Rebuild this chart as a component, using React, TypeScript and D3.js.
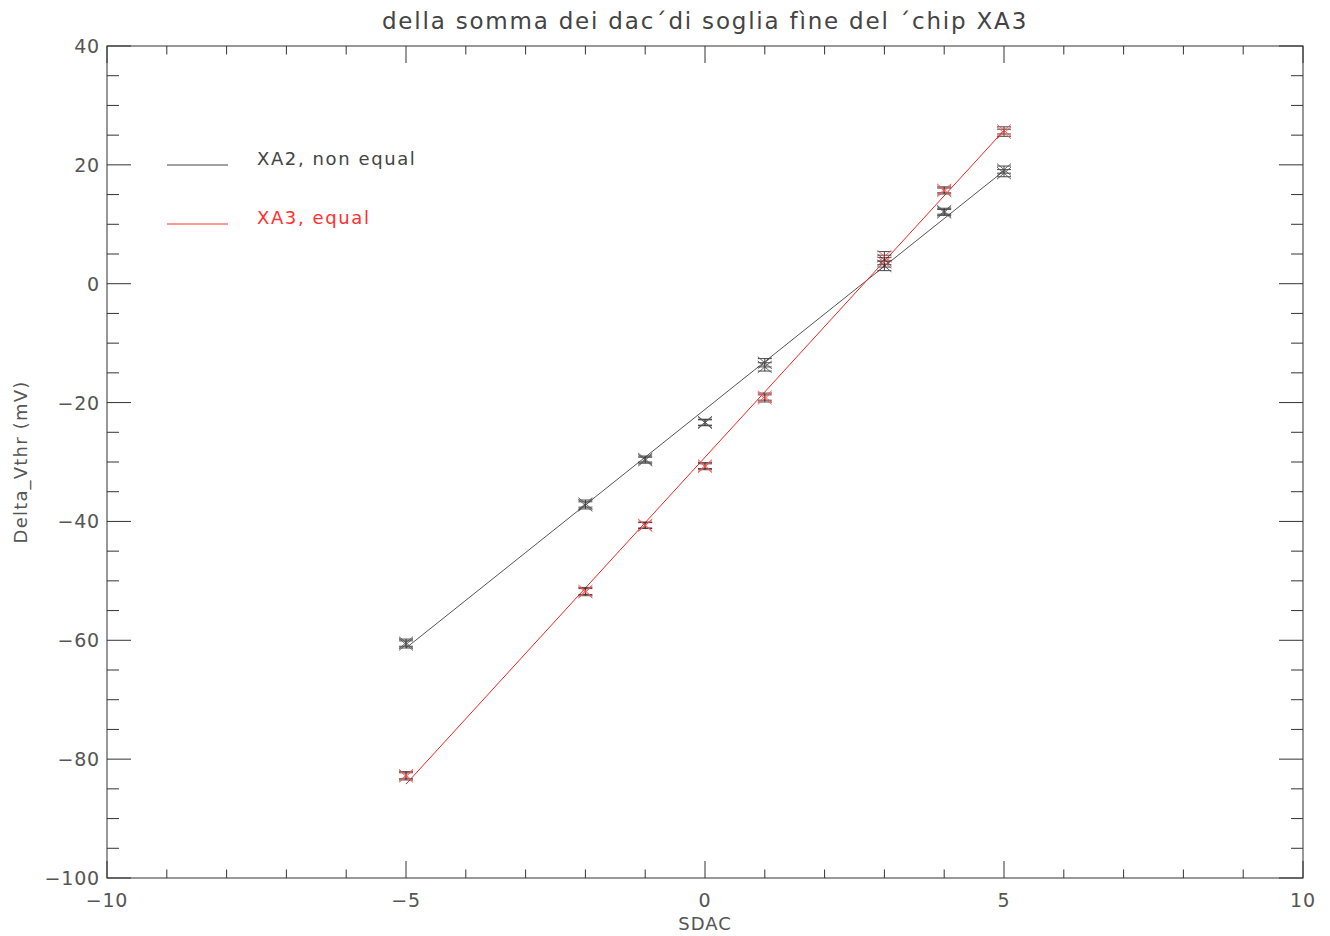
import React from "react";
import * as d3 from "d3";

const TITLE = "della somma dei dac´di soglia fìne del ´chip XA3";
const X_LABEL = "SDAC";
const Y_LABEL = "Delta_Vthr (mV)";
const xMajorTicks = [-10, -5, 0, 5, 10];
const yMajorTicks = [-100, -80, -60, -40, -20, 0, 20, 40];

const sdac = [-5, -2, -1, 0, 1, 3, 4, 5];
// XA2, non equal (black): repeated measurements
const xa2MeasA = [-60.4, -37.0, -29.5, -23.3, -13.3, 3.0, 12.2, 19.2];
const xa2MeasB = [-60.7, -37.3, -29.7, -23.4, -14.0, 4.0, 12.0, 18.6];
const xa2Err = [0.6, 0.6, 0.5, 0.5, 0.7, 0.8, 0.5, 0.6];
const xa2Fit = [-61.3, 19.0]; // fit values at sdac = -5 and 5
// XA3, equal (red)
const xa3MeasA = [-82.7, -51.7, -40.6, -30.6, -19.0, 4.6, 15.8, 25.8];
const xa3MeasB = [-82.9, -51.9, -40.7, -30.8, -19.3, 3.6, 15.6, 25.4];
const xa3Err = [0.6, 0.6, 0.5, 0.5, 0.6, 0.8, 0.5, 0.6];
const xa3Fit = [-84.2, 25.8];
const fitX = [-5, 5];

const legendItems = [
  { label: "XA2, non equal", color: "#444444" },
  { label: "XA3, equal", color: "#ff3030" },
];

const W = 1330, H = 936;
const left = 107, right = 1303, top = 46, bottom = 878;
const FONT = "'DejaVu Sans', sans-serif";
const AX = "#333333";
const TXT = "#555555";

export default function App() {
  const x = d3.scaleLinear().domain([-10, 10]).range([left, right]);
  const y = d3.scaleLinear().domain([-100, 40]).range([bottom, top]);
  const xMinor = d3.range(-10, 10.001, 1);
  const yMinor = d3.range(-100, 40.001, 5);
  const line = d3.line<[number, number]>().x(d => x(d[0])).y(d => y(d[1]));

  const series = [
    { a: xa2MeasA, b: xa2MeasB, err: xa2Err, fit: xa2Fit, color: "#555555", sym: "#555555" },
    { a: xa3MeasA, b: xa3MeasB, err: xa3Err, fit: xa3Fit, color: "#ff2020", sym: "#ff5050" },
  ];

  const sym = (cx: number, cy: number, color: string, key: string) => (
    <g key={key} stroke={color} strokeWidth={0.9}>
      <line x1={cx - 7} y1={cy - 6} x2={cx + 7} y2={cy + 6} />
      <line x1={cx - 7} y1={cy + 6} x2={cx + 7} y2={cy - 6} />
    </g>
  );
  const errBar = (cx: number, v: number, e: number, key: string) => (
    <g key={key} stroke="#333" strokeWidth={0.9}>
      <line x1={cx} y1={y(v - e)} x2={cx} y2={y(v + e)} />
      <line x1={cx - 7} y1={y(v - e)} x2={cx + 7} y2={y(v - e)} />
      <line x1={cx - 7} y1={y(v + e)} x2={cx + 7} y2={y(v + e)} />
    </g>
  );

  return (
    <svg width={W} height={H} style={{ position: "absolute", left: 0, top: 0, background: "#fff" }}>
      <rect x={0} y={0} width={W} height={H} fill="#fff" />
      <text x={705} y={29} textAnchor="middle" fontFamily={FONT} fontSize={23} fill="#444" letterSpacing={1.8}>{TITLE}</text>
      {/* frame */}
      <rect x={left} y={top} width={right - left} height={bottom - top} fill="none" stroke={AX} strokeWidth={1} />
      {/* x ticks */}
      {xMinor.map((v, i) => {
        const major = xMajorTicks.includes(v);
        const len = major ? 17 : 8.5;
        return (
          <g key={"xt" + i} stroke={AX}>
            <line x1={x(v)} x2={x(v)} y1={bottom} y2={bottom - len} />
            <line x1={x(v)} x2={x(v)} y1={top} y2={top + len} />
          </g>
        );
      })}
      {yMinor.map((v, i) => {
        const major = yMajorTicks.includes(Math.round(v));
        const len = major ? 24 : 12;
        return (
          <g key={"yt" + i} stroke={AX}>
            <line x1={left} x2={left + len} y1={y(v)} y2={y(v)} />
            <line x1={right} x2={right - len} y1={y(v)} y2={y(v)} />
          </g>
        );
      })}
      {xMajorTicks.map(v => (
        <text key={"xl" + v} x={x(v)} y={907} textAnchor="middle" fontFamily={FONT} fontSize={19} fill={TXT} letterSpacing={0.8}>
          {v < 0 ? "\u2212" + Math.abs(v) : String(v)}
        </text>
      ))}
      {yMajorTicks.map(v => (
        <text key={"yl" + v} x={100} y={y(v) + 7} textAnchor="end" fontFamily={FONT} fontSize={19} fill={TXT} letterSpacing={0.8}>
          {v < 0 ? "\u2212" + Math.abs(v) : String(v)}
        </text>
      ))}
      <text x={705} y={930} textAnchor="middle" fontFamily={FONT} fontSize={18} fill={TXT} letterSpacing={1}>{X_LABEL}</text>
      <text transform={`translate(27,462) rotate(-90)`} textAnchor="middle" fontFamily={FONT} fontSize={18} fill={TXT} letterSpacing={1.2}>{Y_LABEL}</text>
      {/* fit lines */}
      {series.map((s, i) => (
        <path key={"fit" + i} d={line(fitX.map((fx, k) => [fx, s.fit[k]] as [number, number])) || ""} fill="none" stroke={s.color} strokeWidth={1} />
      ))}
      {/* points */}
      {series.map((s, i) => (
        <g key={"pts" + i}>
          {sdac.map((sx, k) => {
            const cx = x(sx);
            return (
              <g key={k}>
                {errBar(cx, s.a[k], s.err[k], "ea")}
                {errBar(cx, s.b[k], s.err[k], "eb")}
                {sym(cx, y(s.a[k]), s.sym, "a")}
                {sym(cx, y(s.b[k]), s.sym, "b")}
              </g>
            );
          })}
        </g>
      ))}
      {/* legend */}
      {legendItems.map((it, i) => (
        <g key={"lg" + i}>
          <line x1={167} x2={228} y1={165 + i * 59} y2={165 + i * 59} stroke={it.color} strokeWidth={1} />
          <text x={257} y={165 + i * 59} fontFamily={FONT} fontSize={18} fill={it.color} letterSpacing={1.6}>{it.label}</text>
        </g>
      ))}
    </svg>
  );
}
